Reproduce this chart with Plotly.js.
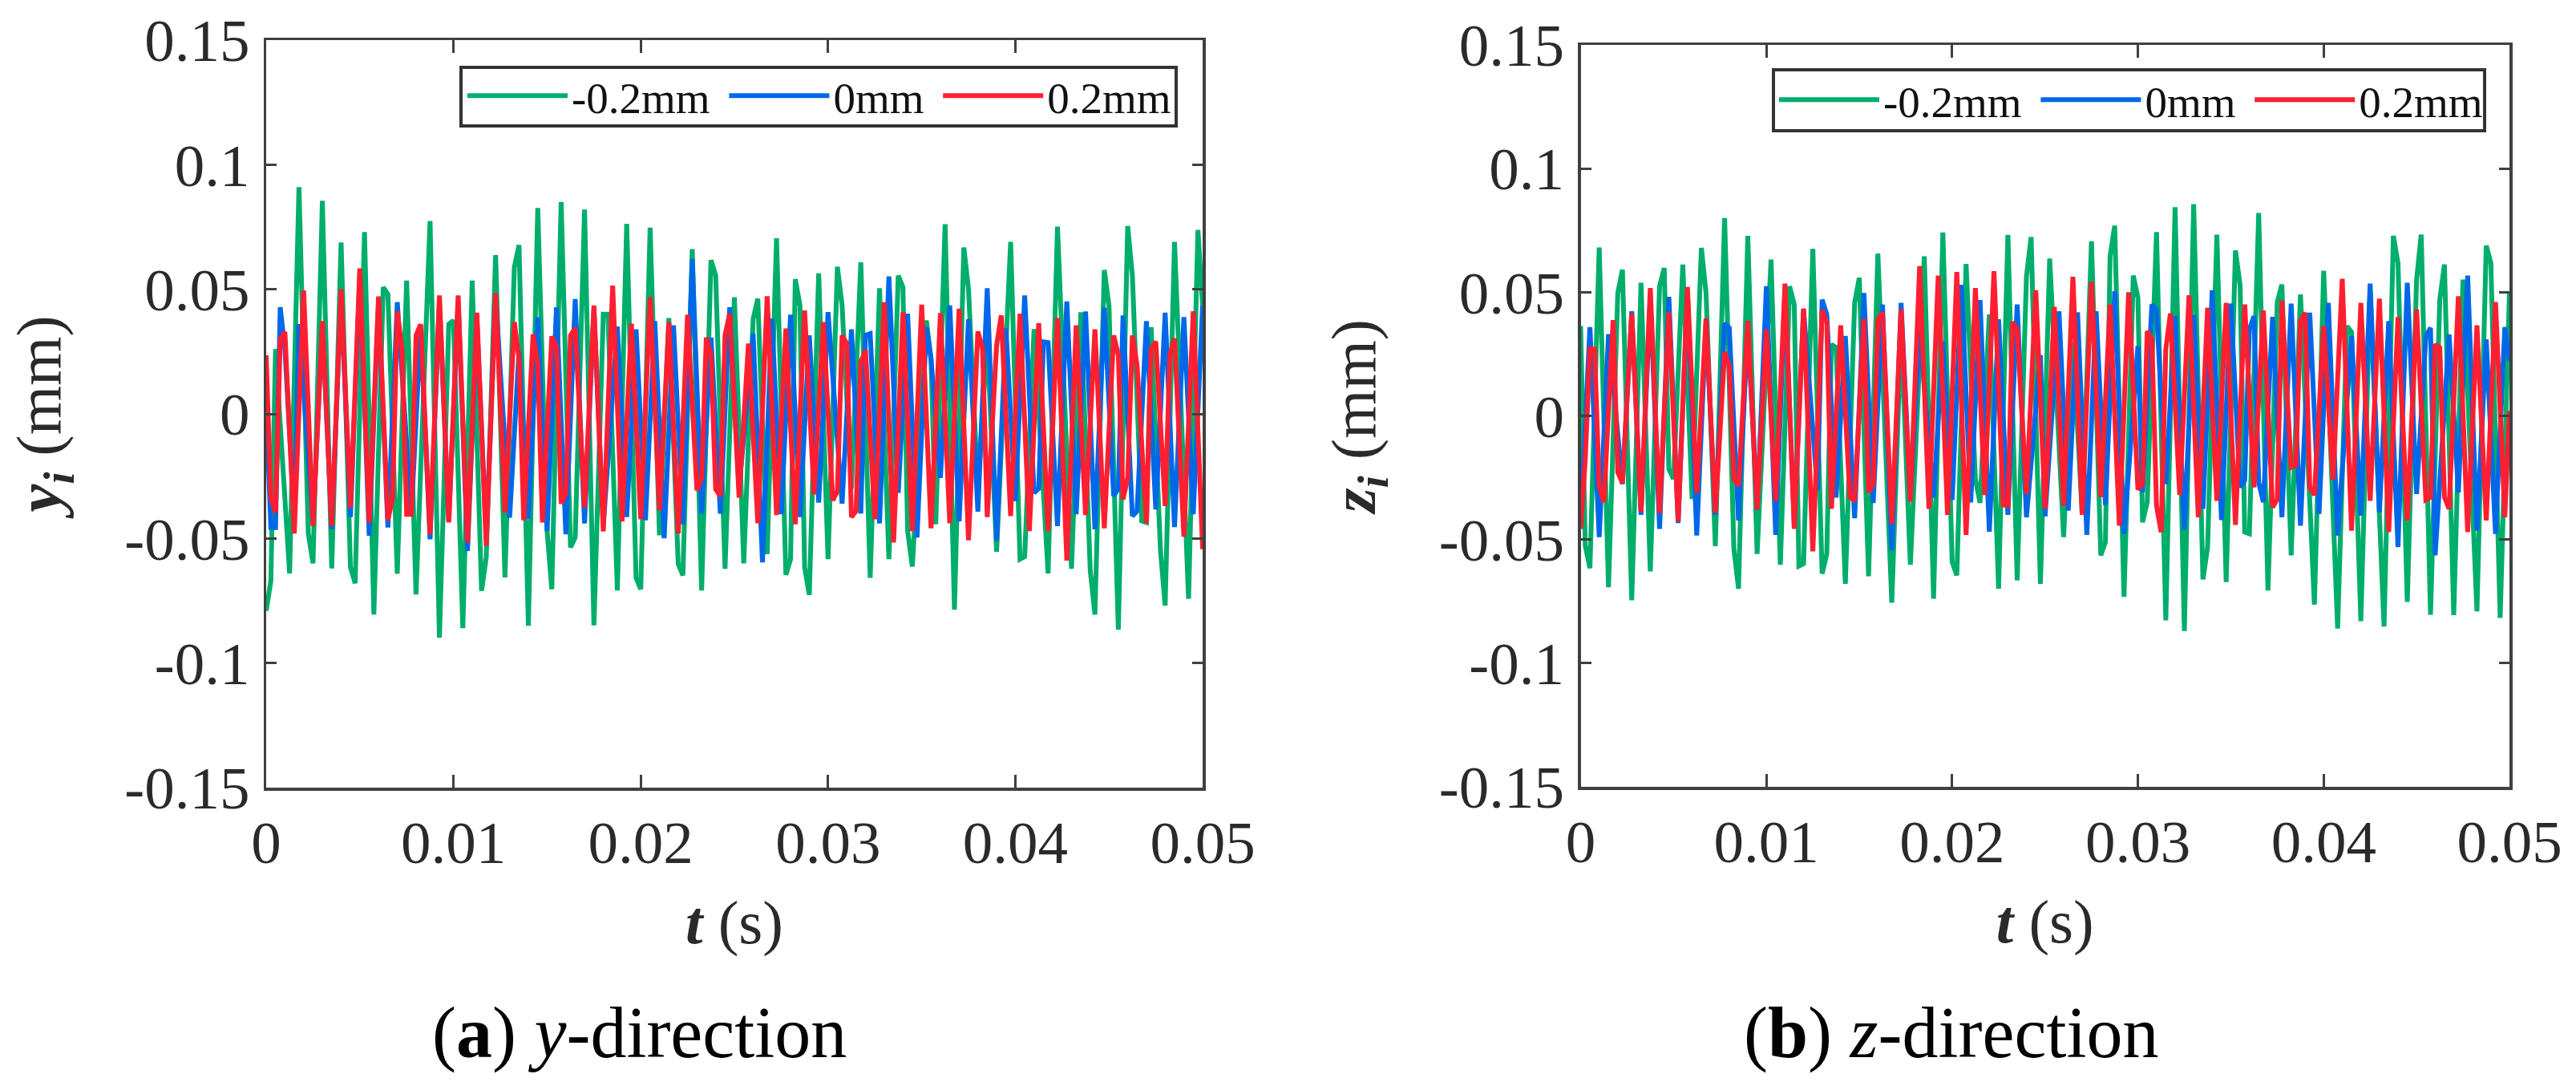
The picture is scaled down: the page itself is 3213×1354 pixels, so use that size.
<!DOCTYPE html>
<html><head><meta charset="utf-8">
<script src="https://cdn.plot.ly/plotly-3.0.1.min.js"></script>
<style>html,body{margin:0;padding:0;background:#fff}</style></head>
<body><div id="chart" style="width:3213px;height:1354px"></div>
<script>
// Extrema: [sample number, value in mm]. One sample = 0.00025 s.
const sampleStep = 0.00025;
const seriesNames = ['-0.2mm\u00A0','0mm\u00A0','0.2mm'];
const xTicks = [0,0.01,0.02,0.03,0.04,0.05];
const xTickText = ['0','0.01','0.02','0.03','0.04','0.05'];
const yTicks = [-0.15,-0.1,-0.05,0,0.05,0.1,0.15];
const yTickText = ['-0.15','-0.1','-0.05','0','0.05','0.1','0.15'];

const aGreen = [[0,-0.079],[1,-0.067],[2,0.026],[5,-0.064],[7,0.091],[9,-0.048],[10,-0.06],[12,0.0855],[14,-0.062],[16,0.0688],[18,-0.0616],[19,-0.068],[21,0.073],[23,-0.0805],[25,0.0508],[26,0.048],[28,-0.0642],[30,0.0535],[32,-0.0725],[35,0.0774],[37,-0.0898],[39,0.036],[40,0.0375],[42,-0.086],[44,0.0535],[46,-0.071],[47,-0.0576],[49,0.0637],[51,-0.0656],[53,0.0588],[54,0.0677],[56,-0.085],[58,0.0826],[60,-0.047],[61,-0.0704],[63,0.085],[65,-0.0536],[66,-0.0496],[68,0.082],[70,-0.0849],[72,0.04],[73,0.04],[75,-0.0709],[77,0.0763],[79,-0.0658],[80,-0.0704],[82,0.0747],[84,-0.0487],[86,0.0384],[88,-0.0602],[89,-0.0648],[91,0.0661],[93,-0.0709],[95,0.0617],[96,0.0555],[98,-0.0622],[100,0.0468],[102,-0.06],[104,0.038],[105,0.0462],[107,-0.0563],[109,0.0705],[111,-0.0646],[112,-0.0583],[113,0.0541],[114,0.0435],[115,-0.0616],[116,-0.0726],[118,0.0564],[120,-0.0583],[122,0.059],[123,0.0435],[125,-0.03],[127,0.0608],[129,-0.0658],[131,0.0504],[133,-0.0583],[135,0.0555],[136,0.0508],[137,-0.047],[138,-0.0613],[141,0.0375],[142,0.022],[143,-0.0443],[145,0.0761],[147,-0.0786],[149,0.0668],[150,0.05],[152,-0.03],[154,0.03],[156,-0.0553],[159,0.069],[161,-0.0583],[162,-0.0573],[164,0.034],[167,-0.064],[169,0.0751],[172,-0.0622],[174,0.0408],[176,-0.0629],[177,-0.0805],[179,0.0577],[180,0.0435],[182,-0.0866],[184,0.0754],[185,0.0555],[187,-0.043],[188,-0.0436],[189,0.0348],[191,-0.055],[192,-0.0769],[194,0.069],[197,-0.0742],[199,0.0738],[200,0.0435]];

const aBlue = [[0,0.003],[1,-0.0456],[2,-0.0456],[3,0.0428],[4,0.026],[6,-0.042],[7,0.036],[10,-0.044],[12,0.036],[14,-0.0463],[16,0.048],[18,-0.0414],[20,0.056],[22,-0.0489],[24,0.045],[26,-0.0456],[28,0.0448],[31,-0.04],[33,0.034],[35,-0.0503],[37,0.045],[39,-0.043],[41,0.045],[43,-0.055],[45,0.038],[47,-0.05],[49,0.047],[52,-0.0416],[54,0.025],[56,-0.042],[58,0.0388],[60,-0.047],[62,0.0428],[64,-0.0483],[66,0.0461],[68,-0.044],[70,0.042],[72,-0.045],[75,0.035],[77,-0.0414],[79,0.0339],[81,-0.0427],[83,0.0372],[85,-0.0499],[87,0.0355],[89,-0.0443],[91,0.0621],[93,-0.04],[95,0.0306],[97,-0.04],[99,0.0428],[101,-0.03],[104,0.0322],[106,-0.0596],[108,0.0382],[110,-0.0403],[112,0.0398],[114,-0.0414],[116,0.0315],[118,-0.0356],[120,0.0408],[123,-0.036],[125,0.0339],[127,-0.04],[128,0.0315],[129,0.0322],[131,-0.044],[133,0.0552],[135,-0.0317],[137,0.0402],[139,-0.0496],[141,0.0348],[142,0.022],[144,-0.0257],[146,0.0435],[148,-0.0432],[150,0.0379],[152,-0.0392],[154,0.0504],[156,-0.0509],[158,0.0342],[160,-0.035],[162,0.0475],[164,-0.0317],[165,-0.03],[166,0.0289],[167,0.0286],[169,-0.045],[171,0.0451],[173,-0.0403],[175,0.0411],[177,-0.0463],[179,0.0426],[181,-0.033],[182,-0.03],[183,0.0395],[185,-0.041],[186,-0.039],[188,0.0372],[190,-0.0383],[192,0.0406],[194,-0.0454],[196,0.0388],[198,-0.0403],[200,0.0435]];

const aRed = [[0,0.0235],[1,-0.0336],[2,-0.0396],[3,0.03],[4,0.0329],[6,-0.048],[8,0.0495],[10,-0.045],[12,0.0372],[14,-0.045],[16,0.05],[18,-0.0376],[20,0.0584],[22,-0.0436],[24,0.0471],[26,-0.0427],[27,-0.0336],[28,0.0411],[29,0.0262],[30,-0.0403],[31,-0.0403],[32,0.0315],[33,0.0359],[35,-0.0483],[37,0.0475],[39,-0.0436],[41,0.0475],[43,-0.0516],[45,0.0406],[47,-0.0529],[49,0.0485],[51,-0.0396],[53,0.0368],[54,0.022],[55,-0.0427],[57,0.0319],[58,0.0196],[59,-0.0436],[61,0.0311],[62,0.0269],[63,-0.036],[64,-0.0317],[65,0.0315],[66,0.0344],[68,-0.0376],[70,0.0435],[72,-0.0472],[74,0.0515],[76,-0.0432],[78,0.0362],[80,-0.0423],[82,0.0468],[84,-0.0387],[86,0.0368],[88,-0.048],[90,0.0398],[92,-0.0307],[93,-0.0257],[94,0.0306],[95,0.0235],[96,-0.0303],[97,-0.033],[98,0.0315],[99,0.0402],[101,-0.0336],[103,0.0282],[105,-0.0439],[107,0.0472],[109,-0.0406],[111,0.0342],[113,-0.0443],[115,0.0415],[117,-0.0323],[119,0.0368],[121,-0.0347],[122,-0.031],[123,0.0315],[124,0.0282],[125,-0.0414],[126,-0.039],[127,0.0209],[128,0.0255],[130,-0.0423],[132,0.0448],[134,-0.0516],[136,0.0408],[138,-0.047],[140,0.0438],[142,-0.0459],[144,0.0404],[146,-0.0439],[148,0.0422],[150,-0.0507],[152,0.0331],[153,0.0262],[154,-0.0414],[156,0.0275],[157,0.0395],[159,-0.041],[161,0.0402],[163,-0.047],[165,0.0364],[167,-0.047],[169,0.0384],[171,-0.0589],[173,0.0355],[175,-0.0406],[177,0.0339],[179,-0.0459],[181,0.0315],[182,0.0235],[183,-0.0343],[184,-0.0257],[185,0.0315],[186,0.0196],[188,-0.0439],[189,0.0262],[190,0.029],[192,-0.037],[193,0.0235],[194,0.0302],[196,-0.0493],[198,0.0412],[200,-0.0543]];

const bGreen = [[0,0.0363],[1,-0.0524],[2,-0.0616],[4,0.0681],[6,-0.0693],[8,0.0497],[9,0.0591],[11,-0.0746],[13,0.0538],[15,-0.0629],[17,0.0524],[18,0.0598],[19,-0.0215],[20,-0.0255],[22,0.0612],[24,-0.0336],[26,0.0679],[27,0.0497],[29,-0.0527],[31,0.08],[33,-0.0538],[34,-0.0699],[36,0.0728],[38,-0.0558],[41,0.0632],[43,-0.0602],[45,0.0524],[46,0.045],[47,-0.0607],[48,-0.0598],[50,0.0675],[52,-0.0638],[53,-0.0558],[54,0.0289],[55,0.0276],[57,-0.0679],[59,0.0457],[60,0.0558],[62,-0.0648],[64,0.0656],[67,-0.0755],[69,0.035],[71,-0.0602],[74,0.0645],[76,-0.0739],[78,0.0742],[80,-0.0591],[81,-0.0645],[83,0.0614],[85,-0.0255],[86,-0.0352],[88,0.041],[90,-0.0699],[92,0.0732],[94,-0.0665],[96,0.0564],[97,0.0723],[99,-0.0679],[101,0.0636],[104,-0.049],[106,0.03],[108,-0.04],[110,0.0706],[112,-0.0564],[113,-0.051],[114,0.0645],[115,0.0769],[117,-0.0732],[119,0.0567],[120,0.0477],[121,-0.043],[122,-0.0349],[124,0.0743],[126,-0.0827],[128,0.0844],[130,-0.087],[132,0.0856],[134,-0.0661],[135,-0.0531],[137,0.0733],[139,-0.0672],[141,0.0669],[142,0.0528],[143,-0.047],[144,-0.0477],[146,0.082],[148,-0.0706],[150,0.046],[151,0.0531],[153,-0.0564],[155,0.0491],[158,-0.0763],[160,0.0587],[163,-0.086],[165,0.0363],[166,0.0339],[168,-0.083],[170,0.05],[173,-0.0852],[175,0.0728],[176,0.0618],[178,-0.0752],[180,0.055],[181,0.0733],[183,-0.0804],[185,0.047],[186,0.0612],[188,-0.0806],[190,0.0551],[193,-0.079],[195,0.0688],[196,0.0618],[198,-0.0817],[200,0.0497]];

const bBlue = [[0,-0.0417],[2,0.0359],[4,-0.049],[6,0.033],[9,-0.0276],[11,0.0423],[13,-0.04],[15,0.048],[17,-0.0457],[19,0.0481],[21,-0.0433],[23,0.05],[25,-0.0484],[27,0.038],[29,-0.04],[31,0.0374],[32,0.0356],[34,-0.0423],[36,0.036],[38,-0.038],[40,0.0524],[42,-0.0481],[44,0.05],[46,-0.044],[48,0.043],[51,-0.03],[52,0.047],[53,0.041],[55,-0.033],[57,0.0323],[59,-0.0414],[61,0.0497],[63,-0.0352],[65,0.045],[67,-0.0544],[69,0.0457],[71,-0.034],[73,0.034],[76,-0.033],[78,0.03],[80,-0.034],[82,0.053],[84,-0.035],[86,0.0468],[88,-0.0468],[90,0.039],[92,-0.04],[94,0.045],[96,-0.041],[99,0.0245],[100,-0.0406],[103,0.0423],[105,-0.0383],[107,0.0419],[109,-0.0481],[111,0.0423],[113,-0.036],[115,0.0504],[117,-0.0477],[120,0.0282],[121,-0.0309],[123,0.045],[124,0.043],[126,-0.0276],[128,0.0403],[130,-0.046],[132,0.0408],[134,-0.0376],[136,0.0508],[138,-0.0421],[140,0.0454],[142,-0.0289],[143,-0.026],[144,0.0349],[145,0.0403],[146,-0.0269],[147,-0.0349],[149,0.04],[151,-0.041],[153,0.0454],[155,-0.0444],[157,0.0417],[159,-0.0396],[161,0.0457],[163,-0.0484],[166,0.0323],[168,-0.0403],[170,0.0535],[172,-0.039],[174,0.0383],[176,-0.0531],[178,0.0538],[180,-0.0316],[182,0.032],[183,0.0356],[184,-0.0564],[187,0.0329],[189,-0.0309],[191,0.0567],[193,-0.0464],[195,0.0309],[197,-0.0477],[199,0.0359],[200,0.0222]];

const bRed = [[0,-0.0457],[1,-0.0175],[2,0.0271],[3,0.0269],[4,-0.0282],[5,-0.0349],[7,0.0387],[8,-0.0228],[9,-0.0271],[11,0.0414],[13,-0.0387],[15,0.0517],[17,-0.0394],[19,0.0419],[21,-0.0427],[23,0.0521],[25,-0.0312],[27,0.0394],[29,-0.0392],[31,0.0258],[32,0.0202],[33,-0.0255],[34,-0.0282],[36,0.0384],[38,-0.0379],[40,0.0349],[42,-0.0343],[44,0.0535],[46,-0.0457],[48,0.0434],[50,-0.0548],[52,0.0427],[53,0.0376],[54,-0.0376],[56,0.0366],[58,-0.0329],[59,-0.0343],[61,0.0392],[62,-0.0309],[63,-0.0276],[64,0.039],[65,0.0417],[67,-0.0437],[69,0.043],[71,-0.0347],[73,0.0605],[75,-0.0376],[77,0.0567],[79,-0.04],[81,0.0582],[83,-0.0481],[85,0.0517],[87,-0.032],[89,0.0585],[91,-0.036],[92,-0.0363],[93,0.0379],[94,0.0349],[96,-0.0316],[98,0.0508],[100,-0.0376],[102,0.0441],[104,-0.0363],[106,0.0562],[108,-0.04],[110,0.0542],[112,-0.0329],[114,0.045],[116,-0.0444],[118,0.05],[120,-0.0298],[121,-0.0276],[122,0.0343],[123,0.0309],[124,-0.0363],[125,-0.047],[126,0.0269],[127,0.0414],[129,-0.032],[131,0.0488],[133,-0.041],[135,0.0437],[137,-0.0343],[139,0.0457],[141,-0.0441],[143,0.045],[145,-0.0289],[147,0.0426],[149,-0.037],[150,-0.0336],[151,0.0466],[153,-0.0208],[154,-0.0199],[155,0.0383],[156,0.0417],[157,-0.0289],[158,-0.032],[160,0.0363],[162,-0.0258],[164,0.0554],[166,-0.0464],[168,0.0457],[170,-0.0343],[172,0.0474],[174,-0.047],[176,0.0399],[178,-0.0423],[180,0.043],[182,-0.0339],[183,-0.0329],[184,0.0289],[185,0.0276],[186,-0.0329],[187,-0.0376],[189,0.0484],[191,-0.047],[193,0.0366],[195,-0.0423],[197,0.046],[199,-0.041],[200,0.002]];

const colors = ['#00AE6C','#0068E8','#FF1F30'];
const serif = '"Liberation Serif", serif';
const W = 3213, H = 1354;

function tr(pts, i, xa, ya, leg){
  return {x: pts.map(p => p[0]*sampleStep), y: pts.map(p => p[1]), xaxis: xa, yaxis: ya, legend: leg,
    name: seriesNames[i], mode: 'lines', line: {color: colors[i], width: 6, simplify: false}};
}
const data = [
  tr(aGreen,0,'x','y','legend'), tr(aBlue,1,'x','y','legend'), tr(aRed,2,'x','y','legend'),
  tr(bGreen,0,'x2','y2','legend2'), tr(bBlue,1,'x2','y2','legend2'), tr(bRed,2,'x2','y2','legend2')
];
const tickFont = {family: serif, size: 75, color: '#2a2a2a'};
function xAx(l, r, anchor, title){
  return {domain: [l/W, r/W], anchor, range: [0,0.05], tickmode: 'array', tickvals: xTicks, ticktext: xTickText,
    ticks: 'inside', ticklen: 16, tickwidth: 3, tickcolor: '#404040', showline: true, linecolor: '#404040', linewidth: 3.5,
    mirror: 'ticks', showgrid: false, zeroline: false, tickfont: tickFont,
    title: {text: title, font: {family: serif, size: 77, color: '#2a2a2a'}, standoff: 32}};
}
function yAx(t, b, anchor, title){
  return {domain: [1-b/H, 1-t/H], anchor, range: [-0.15,0.15], tickmode: 'array', tickvals: yTicks, ticktext: yTickText,
    ticks: 'inside', ticklen: 13, tickwidth: 3, tickcolor: '#404040', showline: true, linecolor: '#404040', linewidth: 3.5,
    mirror: 'ticks', showgrid: false, zeroline: false, tickfont: tickFont, ticklabelstandoff: 2,
    title: {text: title, font: {family: serif, size: 79, color: '#2a2a2a'}, standoff: 54}};
}
function leg(x, y){
  return {orientation: 'h', x: x/W, y: 1-y/H, xanchor: 'left', yanchor: 'top', bgcolor: 'rgba(0,0,0,0)', borderwidth: 0,
    font: {family: serif, size: 55, color: '#111'}, itemwidth: 125, itemclick: false, traceorder: 'normal', tracegroupgap: 0};
}
function box(l, t, r, b){
  return {type: 'rect', xref: 'paper', yref: 'paper', x0: l/W, x1: r/W, y0: 1-b/H, y1: 1-t/H, layer: 'above',
    fillcolor: 'rgba(0,0,0,0)', line: {color: '#333', width: 4}};
}
const layout = {
  width: W, height: H, margin: {l:0,r:0,t:0,b:0}, paper_bgcolor: '#fff', plot_bgcolor: '#fff', showlegend: true,
  xaxis: xAx(332,1500,'y','<b><i>t</i></b> (s)'),
  yaxis: yAx(50,982,'x','<b><i>y<sub>i</sub></i></b> (mm)'),
  xaxis2: xAx(1971.5,3130,'y2','<b><i>t</i></b> (s)'),
  yaxis2: yAx(56,981,'x2','<b><i>z<sub>i</sub></i></b> (mm)'),
  legend: leg(578,77), legend2: leg(2214,82),
  shapes: [box(575,84,1467,157), box(2212,87,3099,163)],
  annotations: [
    {text:'(<b>a</b>) <i>y</i>-direction', xref:'paper', yref:'paper', x:797/W, y:1-1288/H, xanchor:'center', yanchor:'middle', showarrow:false, font:{family:serif,size:90,color:'#000'}},
    {text:'(<b>b</b>) <i>z</i>-direction', xref:'paper', yref:'paper', x:2433/W, y:1-1288/H, xanchor:'center', yanchor:'middle', showarrow:false, font:{family:serif,size:90,color:'#000'}}
  ]
};
Plotly.newPlot('chart', data, layout, {displayModeBar:false, staticPlot:true});
</script></body></html>
